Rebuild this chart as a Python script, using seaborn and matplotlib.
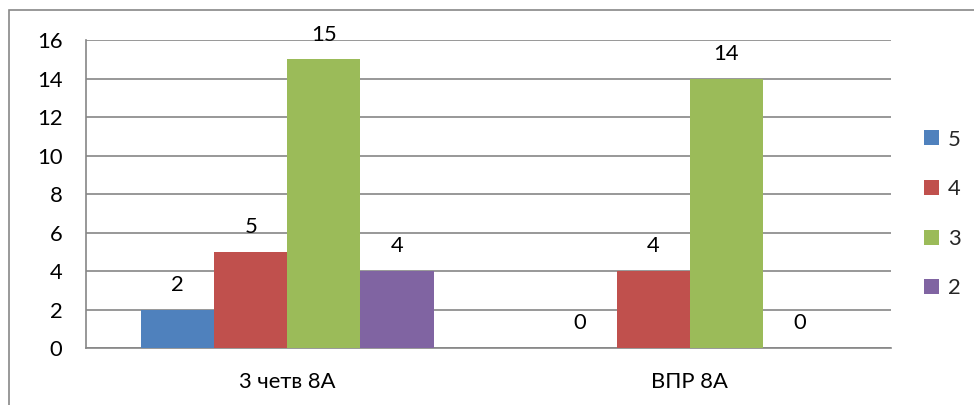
import matplotlib
matplotlib.use("Agg")
import matplotlib.pyplot as plt
import seaborn as sns
import pandas as pd
from matplotlib.patches import Rectangle, Patch

# data
categories = ["3 четв 8А", "ВПР 8А"]
grades = ["5", "4", "3", "2"]
counts_5 = [2, 0]
counts_4 = [5, 4]
counts_3 = [15, 14]
counts_2 = [4, 0]
colors = ["#4F81BD", "#C0504D", "#9BBB59", "#8064A2"]

rows = []
for g, vals in zip(grades, [counts_5, counts_4, counts_3, counts_2]):
    for c, v in zip(categories, vals):
        rows.append({"cat": c, "grade": g, "count": v})
df = pd.DataFrame(rows)

sns.set_style("white")
plt.rcParams["font.family"] = ["Lato", "DejaVu Sans"]
fs = 15.8

fig = plt.figure(figsize=(9.74, 4.05), dpi=100)
ax = fig.add_axes([0.0883, 0.1407, 0.9148 - 0.0883, 0.9012 - 0.1407])

sns.barplot(data=df, x="cat", y="count", hue="grade", hue_order=grades,
            order=categories, palette=colors, width=0.727, saturation=1,
            edgecolor="none", linewidth=0, ax=ax, legend=False, zorder=3)

for cont in ax.containers:
    ax.bar_label(cont, padding=10.5, fontsize=fs, color="black")

ax.set_ylim(0, 16)
ax.set_yticks(range(0, 17, 2))
ax.set_xlim(-0.5, 1.5)
ax.yaxis.grid(True, color="#868686", linewidth=1.2, zorder=0)
ax.set_axisbelow(True)
ax.set_xlabel("")
ax.set_ylabel("")
ax.tick_params(axis="both", length=0, labelsize=fs, labelcolor="black")
ax.tick_params(axis="y", pad=17)
ax.tick_params(axis="x", pad=17.5)
for s in ["top", "right"]:
    ax.spines[s].set_visible(False)
for s in ["left", "bottom"]:
    ax.spines[s].set_color("#868686")
    ax.spines[s].set_linewidth(1.2)

handles = [Patch(facecolor=c, edgecolor="none") for c in colors]
fig.legend(handles, grades, loc="upper left", bbox_to_anchor=(0.949, 0.68),
           frameon=False, handlelength=0.68, handleheight=0.68,
           handletextpad=0.4, labelspacing=1.35, fontsize=fs,
           borderaxespad=0, borderpad=0)

# outer chart border (cut by the image edge on the right and bottom)
fig.patches.append(Rectangle((9 / 974, -0.05), 1.2, 1 - 10 / 405 + 0.05,
                             transform=fig.transFigure, fill=False,
                             edgecolor="#888888", linewidth=1.2))

fig.savefig("out.png", dpi=100)
